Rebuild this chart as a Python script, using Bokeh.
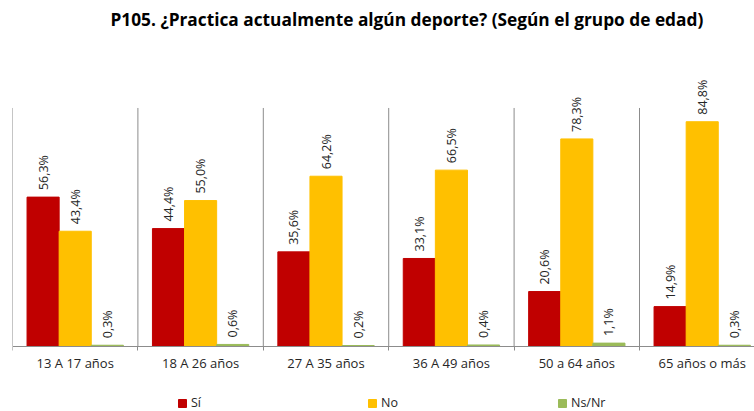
import numpy as np
from bokeh.plotting import figure
from bokeh.models import (ColumnDataSource, Range1d, FixedTicker, Legend, LegendItem,
                          LinearAxis)
from bokeh.core.properties import value
from bokeh.embed import file_html
from bokeh.resources import INLINE

categories = ["13 A 17 años", "18 A 26 años", "27 A 35 años",
              "36 A 49 años", "50 a 64 años", "65 años o más"]
si = [56.3, 44.4, 35.6, 33.1, 20.6, 14.9]
no = [43.4, 55.0, 64.2, 66.5, 78.3, 84.8]
nsnr = [0.3, 0.6, 0.2, 0.4, 1.1, 0.3]
series_names = ["Sí", "No", "Ns/Nr"]
colors = ["#C00000", "#FFC000", "#9BBB59"]
title = "P105. ¿Practica  actualmente algún deporte? (Según el grupo de edad)"

FONT = "Open Sans"
n = len(categories)
centers = np.arange(n) + 0.5
bounds = np.arange(n + 1).astype(float)
bw = 0.256
offsets = [-bw, 0.0, bw]
sep_top = 90

p = figure(width=754, height=411, output_backend="svg", toolbar_location=None,
           x_range=Range1d(0, 5.917), y_range=Range1d(-24.75, 117.4),
           x_axis_location=None, y_axis_location=None,
           min_border_left=12, min_border_right=0, min_border_top=32,
           min_border_bottom=0)
p.outline_line_color = None
p.background_fill_color = "white"
p.border_fill_color = "white"
p.xgrid.visible = False
p.ygrid.visible = False

# category separators
p.segment(x0=bounds, y0=np.zeros_like(bounds), x1=bounds,
          y1=np.full_like(bounds, sep_top), line_color="#8C8C8C", line_width=1)

fmt = lambda v: f"{v:.1f}".replace(".", ",") + "%"
renderers = []
for vals, off, col in zip([si, no, nsnr], offsets, colors):
    src = ColumnDataSource(dict(x=centers + off, top=vals,
                                lab=[fmt(v) for v in vals]))
    r = p.vbar(x="x", top="top", width=bw, bottom=0, source=src,
               fill_color=col, line_color=col)
    renderers.append(r)
    p.text(x="x", y="top", text="lab", source=src, angle=np.pi / 2,
           text_align="left", text_baseline="middle", x_offset=0, y_offset=-7,
           text_font=value(FONT), text_font_size="12.5px", text_color="#262626")

# category axis fixed at the baseline
xa = LinearAxis(fixed_location=0)
xa.ticker = FixedTicker(ticks=list(centers), minor_ticks=list(bounds))
xa.major_label_overrides = {float(c): cat for c, cat in zip(centers, categories)}
xa.major_tick_line_color = None
xa.major_tick_in = 0
xa.major_tick_out = 0
xa.minor_tick_in = 0
xa.minor_tick_out = 4
xa.minor_tick_line_color = "#8C8C8C"
xa.axis_line_color = "#8C8C8C"
xa.major_label_text_font = FONT
xa.major_label_text_font_size = "13px"
xa.major_label_text_color = "#262626"
xa.major_label_standoff = 4
p.add_layout(xa, "below")

p.title.text = title
p.title.align = "left"
p.title.text_font = FONT
p.title.text_font_size = "17.3px"
p.title.text_font_style = "bold"
p.title.text_color = "#000000"
p.title.offset = 98

items = [LegendItem(label=nm, renderers=[r]) for nm, r in zip(series_names, renderers)]
leg = Legend(items=items, orientation="horizontal", location=(165, 0),
             glyph_width=10, glyph_height=10, label_standoff=4,
             spacing=156, padding=4, margin=0, border_line_color=None,
             background_fill_alpha=0,
             label_text_font=FONT, label_text_font_size="12.5px",
             label_text_color="#262626")
p.add_layout(leg, "center")

open("out.html", "w").write(file_html(p, INLINE))
